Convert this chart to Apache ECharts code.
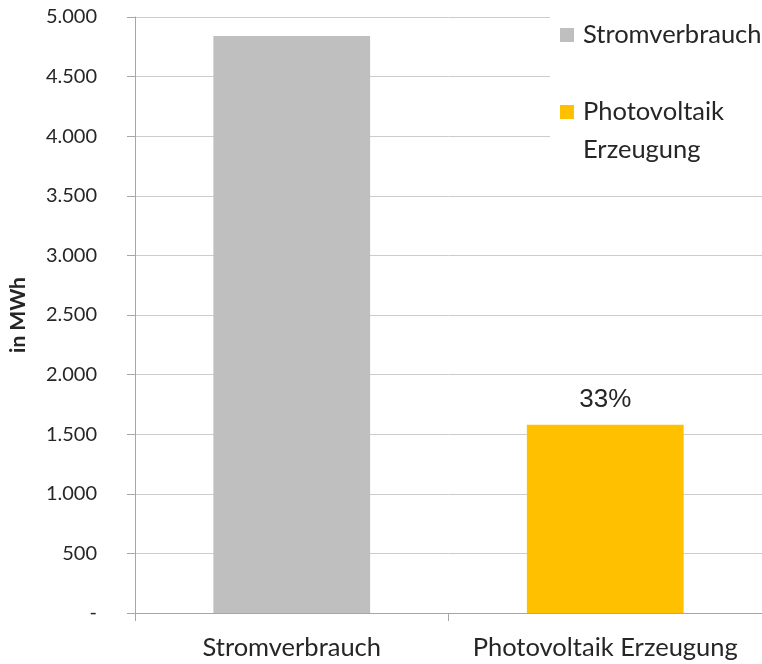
<!DOCTYPE html>
<html>
<head>
<meta charset="utf-8">
<script src="https://cdn.jsdelivr.net/npm/echarts@6/dist/echarts.min.js"></script>
<style>
  html, body { margin: 0; padding: 0; background: #fff; }
  #chart { width: 762px; height: 664px; }
</style>
</head>
<body>
<div id="chart"></div>
<script>
// Jahreswerte in MWh
const categories = ['Stromverbrauch', 'Photovoltaik Erzeugung'];
const stromverbrauch = [4840, null];
const pvErzeugung = [null, 1580];
const yTicks = { min: 0, max: 5000, interval: 500 };

const pvAnteil = Math.round(pvErzeugung[1] / stromverbrauch[0] * 100);

const fmtThousands = v => v === 0 ? '-' : v.toLocaleString('de-DE');

// two-word legend entries wrap; an empty first line keeps the icon beside the first word
const legendLabel = name => name.includes(' ') ? '\n' + name.replace(' ', '\n') : name;

const chart = echarts.init(document.getElementById('chart'));
chart.setOption({
  animation: false,
  textStyle: { fontFamily: 'Lato' },
  grid: { left: 135, right: -5, top: 17, bottom: 51 },
  legend: {
    orient: 'vertical',
    left: 550,
    top: 0,
    padding: [16, 10, 10, 10],
    backgroundColor: '#ffffff',
    itemWidth: 14,
    itemHeight: 14,
    itemGap: 1,
    icon: 'rect',
    textStyle: { fontSize: 25.5, color: '#262626', lineHeight: 38, padding: [0, 0, 0, 4] },
    formatter: legendLabel,
    data: categories
  },
  xAxis: {
    type: 'category',
    data: categories,
    axisLine: { lineStyle: { color: '#a6a6a6' } },
    axisTick: { show: true, length: 8, lineStyle: { color: '#a6a6a6' } },
    axisLabel: { interval: 0, fontSize: 25.5, color: '#262626', margin: 22 }
  },
  yAxis: {
    type: 'value',
    min: yTicks.min,
    max: yTicks.max,
    interval: yTicks.interval,
    name: 'in MWh',
    nameLocation: 'middle',
    nameRotate: 90,
    nameGap: 106,
    nameTextStyle: { fontSize: 21, fontWeight: 'bold', color: '#262626' },
    axisLine: { show: true, lineStyle: { color: '#a6a6a6' } },
    axisTick: { show: true, length: 8, lineStyle: { color: '#a6a6a6' } },
    splitLine: { lineStyle: { color: '#cccccc' } },
    axisLabel: { fontSize: 20, color: '#262626', margin: 38, formatter: fmtThousands }
  },
  series: [
    {
      name: 'Stromverbrauch',
      type: 'bar',
      data: stromverbrauch,
      barWidth: '50%',
      barGap: '-100%',
      itemStyle: { color: '#bfbfbf' }
    },
    {
      name: 'Photovoltaik Erzeugung',
      type: 'bar',
      data: pvErzeugung,
      barWidth: '50%',
      itemStyle: { color: '#ffc000' },
      label: {
        show: true,
        position: 'top',
        distance: 12,
        fontFamily: 'Liberation Sans',
        fontSize: 26,
        color: '#262626',
        formatter: () => pvAnteil + '%'
      }
    }
  ]
});
</script>
</body>
</html>
